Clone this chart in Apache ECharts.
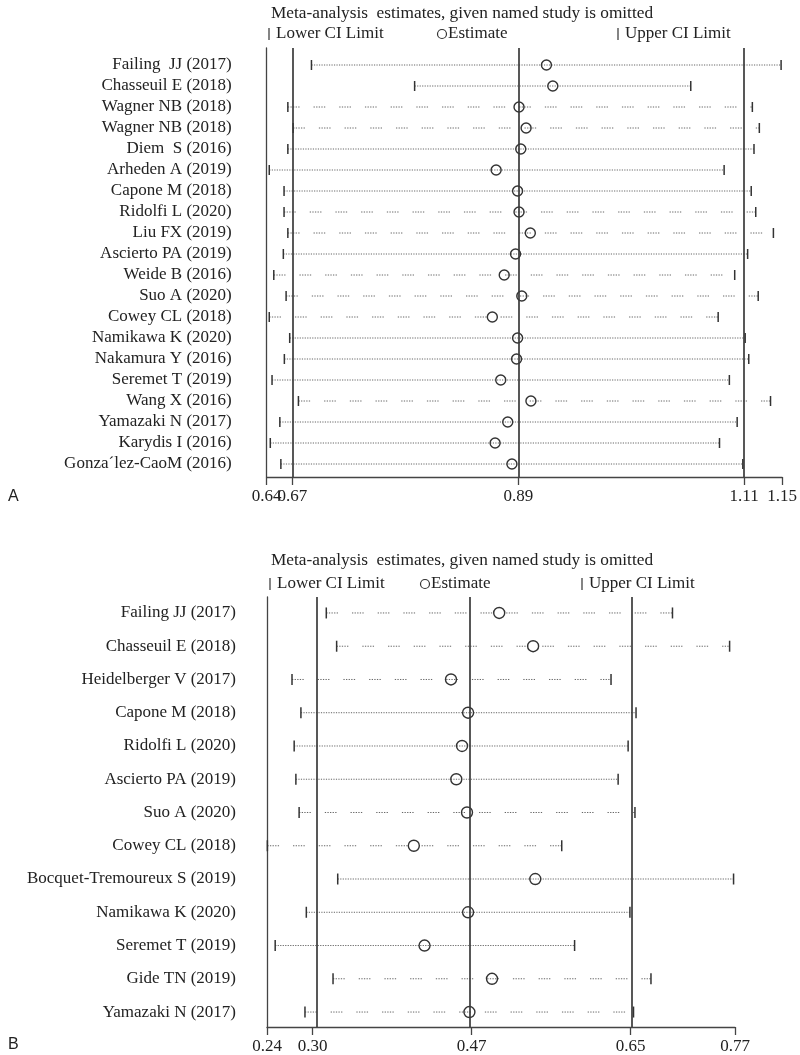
<!DOCTYPE html>
<html>
<head>
<meta charset="utf-8">
<script src="https://cdn.jsdelivr.net/npm/echarts@6/dist/echarts.min.js"></script>
<style>
html,body{margin:0;padding:0;background:#fff;}
#chart{width:800px;height:1055px;}
</style>
</head>
<body>
<div id="chart"></div>
<script>
// ---------- Panel A data ----------
const studiesA = ["Failing  JJ (2017)","Chasseuil E (2018)","Wagner NB (2018)","Wagner NB (2018)","Diem  S (2016)","Arheden A (2019)","Capone M (2018)","Ridolfi L (2020)","Liu FX (2019)","Ascierto PA (2019)","Weide B (2016)","Suo A (2020)","Cowey CL (2018)","Namikawa K (2020)","Nakamura Y (2016)","Seremet T (2019)","Wang X (2016)","Yamazaki N (2017)","Karydis I (2016)","Gonza\u00b4lez-CaoM (2016)"];
const lowerA = [0.6885,0.789,0.6655,0.6707,0.6655,0.6474,0.6618,0.6618,0.6655,0.6611,0.6518,0.6638,0.6474,0.6673,0.6621,0.6501,0.6758,0.6577,0.6484,0.6587];
const estA   = [0.9174,0.9236,0.8907,0.8976,0.8924,0.8684,0.8893,0.8907,0.9017,0.8873,0.8763,0.8934,0.8647,0.8893,0.8883,0.8729,0.9023,0.8797,0.8674,0.8838];
const upperA = [1.146,1.058,1.118,1.1248,1.1196,1.0905,1.1169,1.1213,1.1385,1.1134,1.1008,1.1237,1.0847,1.111,1.1145,1.0956,1.1357,1.1032,1.086,1.1087];
const summaryA = [0.67, 0.89, 1.11];
const tickValuesA = [0.6449, 0.67, 0.89, 1.11, 1.147];
const tickLabelsA = ["0.64", "0.67", "0.89", "1.11", "1.15"];

// ---------- Panel B data ----------
const studiesB = ["Failing JJ (2017)","Chasseuil E (2018)","Heidelberger V (2017)","Capone M (2018)","Ridolfi L (2020)","Ascierto PA (2019)","Suo A (2020)","Cowey CL (2018)","Bocquet-Tremoureux S (2019)","Namikawa K (2020)","Seremet T (2019)","Gide TN (2019)","Yamazaki N (2017)"];
const lowerB = [0.3108,0.3223,0.2727,0.2826,0.2751,0.2770,0.2806,0.2453,0.3235,0.2886,0.2540,0.3183,0.2871];
const estB   = [0.5030,0.5407,0.4494,0.4684,0.4617,0.4553,0.4672,0.4081,0.5431,0.4684,0.4200,0.4950,0.4699];
const upperB = [0.6956,0.7591,0.6273,0.6551,0.6463,0.6352,0.6539,0.5725,0.7635,0.6483,0.5868,0.6717,0.6523];
const summaryB = [0.2957, 0.4724, 0.6491];
const tickValuesB = [0.2449, 0.2957, 0.4724, 0.6491, 0.7651];
const tickLabelsB = ["0.24", "0.30", "0.47", "0.65", "0.77"];

const titleText = "Meta-analysis  estimates, given named study is omitted";

// ---------- styling (not data) ----------
const SERIF = "'Liberation Serif','Times New Roman',serif";
const sparseRowsA = new Set([2,3,7,8,10,11,12,16]);
const sparseRowsB = new Set([0,1,2,6,7,11,12]);
const DENSE = [1.2, 1.3];
const SPARSE = [1.3,1.3,1.3,1.3,1.3,1.3,1.3,1.3,1.3,14];

function rows(lo, est, up) {
  return lo.map((v, i) => [v, est[i], up[i], i + 1]);
}

function makeRender(sparseSet, r, barH) {
  return function (params, api) {
    const y = api.value(3);
    const pL = api.coord([api.value(0), y]);
    const pE = api.coord([api.value(1), y]);
    const pR = api.coord([api.value(2), y]);
    const dash = sparseSet.has(params.dataIndex) ? SPARSE : DENSE;
    return {
      type: 'group',
      children: [
        {type: 'line', shape: {x1: pL[0], y1: pL[1], x2: pR[0], y2: pR[1]},
         style: {stroke: '#666', lineWidth: 1, lineDash: dash}},
        {type: 'line', shape: {x1: pL[0], y1: pL[1] - barH, x2: pL[0], y2: pL[1] + barH},
         style: {stroke: '#333', lineWidth: 1.5}},
        {type: 'line', shape: {x1: pR[0], y1: pR[1] - barH, x2: pR[0], y2: pR[1] + barH},
         style: {stroke: '#333', lineWidth: 1.5}},
        {type: 'circle', shape: {cx: pE[0], cy: pE[1], r: r},
         style: {fill: 'rgba(0,0,0,0)', stroke: '#333', lineWidth: 1.4}}
      ]
    };
  };
}

function labelFormatter(tv, tl) {
  return v => { let k = 0, d = 1e9; tv.forEach((t, i) => { if (Math.abs(t - v) < d) { d = Math.abs(t - v); k = i; } }); return tl[k]; };
}

// main x axis: line, all ticks, labels at even positions
function xAxisCfg(gridIndex, tv, tl) {
  return {
    gridIndex: gridIndex, type: 'value', position: 'bottom', min: tv[0], max: tv[tv.length - 1],
    axisLine: {show: true, lineStyle: {color: '#444', width: 1.3}},
    axisTick: {show: true, customValues: tv, length: 8, lineStyle: {color: '#444', width: 1.3}},
    axisLabel: {show: true, customValues: tv.filter((t, i) => i % 2 === 0), margin: 11,
      showMinLabel: true, showMaxLabel: true, hideOverlap: false,
      formatter: labelFormatter(tv, tl), fontFamily: SERIF, fontSize: 17, color: '#222'},
    splitLine: {show: false}
  };
}
// overlay x axis on the same grid: labels at odd positions only (keeps close labels from hiding each other)
function xAxisOverlay(gridIndex, tv, tl) {
  return {
    gridIndex: gridIndex, type: 'value', position: 'bottom', offset: 0, min: tv[0], max: tv[tv.length - 1],
    axisLine: {show: false}, axisTick: {show: false},
    axisLabel: {show: true, customValues: tv.filter((t, i) => i % 2 === 1), margin: 11,
      showMinLabel: true, showMaxLabel: true, hideOverlap: false,
      formatter: labelFormatter(tv, tl), fontFamily: SERIF, fontSize: 17, color: '#222'},
    splitLine: {show: false}
  };
}

function yAxisCfg(gridIndex, names, min, max, margin) {
  return {
    gridIndex: gridIndex, type: 'value', inverse: true, min: min, max: max,
    axisLine: {show: true, lineStyle: {color: '#444', width: 1.3}},
    axisTick: {show: false},
    axisLabel: {show: true, customValues: names.map((n, i) => i + 1), margin: margin,
      showMinLabel: true, showMaxLabel: true, hideOverlap: false,
      formatter: v => names[Math.round(v) - 1] || '',
      fontFamily: SERIF, fontSize: 17, color: '#222'},
    splitLine: {show: false}
  };
}

function markLines(vals) {
  return {
    silent: true, symbol: ['none', 'none'], label: {show: false},
    lineStyle: {type: 'solid', color: '#3a3a3a', width: 1.7},
    emphasis: {disabled: true},
    data: vals.map(v => ({xAxis: v}))
  };
}

function legendGraphics(top, x0, xEst, xUp) {
  const ty = top;
  const f = '17px ' + SERIF;
  return [
    {type: 'line', shape: {x1: x0, y1: ty - 6, x2: x0, y2: ty + 6}, style: {stroke: '#333', lineWidth: 1.2}},
    {type: 'text', x: x0 + 7, y: ty, style: {text: 'Lower CI Limit', font: f, fill: '#222', verticalAlign: 'middle'}},
    {type: 'circle', shape: {cx: xEst, cy: ty, r: 4.5}, style: {fill: 'none', stroke: '#333', lineWidth: 1.2}},
    {type: 'text', x: xEst + 6, y: ty, style: {text: 'Estimate', font: f, fill: '#222', verticalAlign: 'middle'}},
    {type: 'line', shape: {x1: xUp, y1: ty - 6, x2: xUp, y2: ty + 6}, style: {stroke: '#333', lineWidth: 1.2}},
    {type: 'text', x: xUp + 7, y: ty, style: {text: 'Upper CI Limit', font: f, fill: '#222', verticalAlign: 'middle'}}
  ];
}

const chart = echarts.init(document.getElementById('chart'), null, {renderer: 'canvas'});
chart.setOption({
  animation: false,
  backgroundColor: '#fff',
  grid: [
    {left: 266.7, right: 10.5, top: 48, bottom: 578},
    {left: 267, right: 65, top: 597, bottom: 27}
  ],
  xAxis: [
    xAxisCfg(0, tickValuesA, tickLabelsA),
    xAxisCfg(1, tickValuesB, tickLabelsB),
    xAxisOverlay(0, tickValuesA, tickLabelsA),
    xAxisOverlay(1, tickValuesB, tickLabelsB)
  ],
  yAxis: [yAxisCfg(0, studiesA, 0.19, 20.619, 35), yAxisCfg(1, studiesB, 0.52, 13.45, 31)],
  series: [
    {type: 'custom', xAxisIndex: 0, yAxisIndex: 0, data: rows(lowerA, estA, upperA),
     encode: {x: [0, 1, 2], y: 3}, renderItem: makeRender(sparseRowsA, 5, 5), markLine: markLines(summaryA), z: 3},
    {type: 'custom', xAxisIndex: 1, yAxisIndex: 1, data: rows(lowerB, estB, upperB),
     encode: {x: [0, 1, 2], y: 3}, renderItem: makeRender(sparseRowsB, 5.5, 5.5), markLine: markLines(summaryB), z: 3}
  ],
  graphic: [
    {type: 'text', x: 271, y: 13, style: {text: titleText, font: '17.3px ' + SERIF, fill: '#222', verticalAlign: 'middle'}},
    ...legendGraphics(34, 269, 442, 618),
    {type: 'text', x: 8, y: 497, style: {text: 'A', font: '16px "Liberation Sans", Arial, sans-serif', fill: '#222', verticalAlign: 'middle'}},
    {type: 'text', x: 271, y: 560, style: {text: titleText, font: '17.3px ' + SERIF, fill: '#222', verticalAlign: 'middle'}},
    ...legendGraphics(584, 270, 425, 582),
    {type: 'text', x: 8, y: 1045, style: {text: 'B', font: '16px "Liberation Sans", Arial, sans-serif', fill: '#222', verticalAlign: 'middle'}}
  ]
});
</script>
</body>
</html>
